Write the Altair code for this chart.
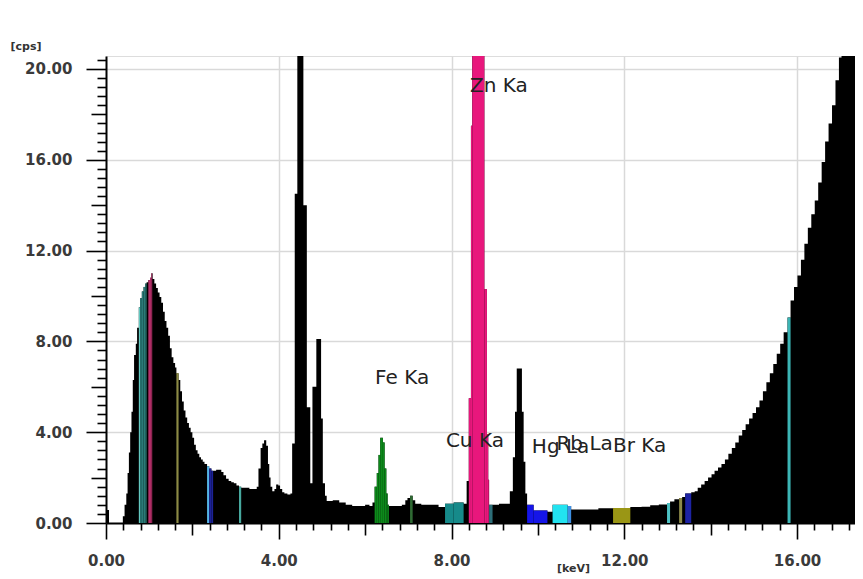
import altair as alt
import pandas as pd

X_MAX = 17.342
Y_MAX = 20.57

# spectrum: step-after breakpoints (keV) and intensity (cps)
spec_e = [0.00, 0.07, 0.39, 0.43, 0.47, 0.50, 0.53, 0.56, 0.59, 0.62, 0.65, 0.69, 0.72, 0.76, 0.79,
          0.83, 0.87, 0.91, 0.94, 0.98, 1.02, 1.05, 1.08, 1.12, 1.16, 1.20, 1.24, 1.28, 1.32, 1.36,
          1.40, 1.44, 1.48, 1.52, 1.56, 1.60, 1.63, 1.68, 1.72, 1.76, 1.80, 1.84, 1.88, 1.92, 1.96,
          2.00, 2.04, 2.08, 2.12, 2.16, 2.20, 2.24, 2.28, 2.34, 2.39, 2.44, 2.48, 2.55, 2.61, 2.67,
          2.72, 2.78, 2.84, 2.90, 2.96, 3.02, 3.08, 3.13, 3.20, 3.26, 3.32, 3.42, 3.49, 3.53, 3.58,
          3.62, 3.66, 3.71, 3.75, 3.78, 3.81, 3.85, 3.90, 3.94, 3.99, 4.03, 4.08, 4.13, 4.20, 4.27,
          4.31, 4.37, 4.43, 4.57, 4.65, 4.73, 4.78, 4.87, 4.98, 5.02, 5.07, 5.11, 5.25, 5.40, 5.55,
          5.70, 5.85, 6.00, 6.10, 6.17, 6.22, 6.27, 6.31, 6.35, 6.41, 6.45, 6.49, 6.52, 6.55, 6.70,
          6.85, 6.93, 6.98, 7.04, 7.10, 7.16, 7.30, 7.50, 7.70, 7.85, 8.05, 8.28, 8.35, 8.40, 8.45,
          8.48, 8.76, 8.82, 8.85, 8.87, 8.95, 9.10, 9.25, 9.35, 9.42, 9.47, 9.51, 9.63, 9.67, 9.71,
          9.75, 9.90, 10.22, 10.34, 10.69, 10.77, 11.00, 11.40, 11.74, 12.14, 12.40, 12.60, 12.80,
          12.99, 13.06, 13.16, 13.27, 13.34, 13.41, 13.55, 13.63, 13.70, 13.78, 13.86, 13.94, 14.02,
          14.09, 14.17, 14.25, 14.33, 14.41, 14.49, 14.57, 14.65, 14.73, 14.81, 14.89, 14.97, 15.05,
          15.13, 15.21, 15.29, 15.37, 15.45, 15.53, 15.61, 15.69, 15.78, 15.85, 15.93, 16.01, 16.09,
          16.17, 16.25, 16.33, 16.41, 16.49, 16.57, 16.65, 16.73, 16.81, 16.89, 16.97, 17.03]
spec_cps = [0.57, 0.0, 0.3, 0.8, 1.3, 2.2, 3.1, 4.0, 4.9, 6.3, 7.4, 7.9, 8.6, 9.5, 9.9,
            10.2, 10.4, 10.55, 10.6, 10.7, 10.8, 11.0, 10.75, 10.55, 10.35, 10.15, 9.95, 9.7, 9.3, 8.9,
            8.6, 8.25, 7.7, 7.3, 7.05, 6.85, 6.6, 6.3, 5.8, 5.35, 4.95, 4.65, 4.4, 4.2, 4.0,
            3.75, 3.45, 3.2, 3.05, 2.9, 2.8, 2.7, 2.6, 2.5, 2.4, 2.3, 2.3, 2.35, 2.35, 2.25,
            2.1, 1.95, 1.85, 1.8, 1.75, 1.65, 1.6, 1.55, 1.55, 1.55, 1.5, 1.5, 1.6, 2.4, 3.3,
            3.5, 3.65, 3.4, 2.6, 2.0, 1.6, 1.4, 1.5, 1.7, 1.65, 1.5, 1.35, 1.3, 1.25, 1.3,
            3.5, 14.5, 21.0, 14.0, 5.1, 1.75, 6.0, 8.1, 4.6, 1.75, 1.2, 0.97, 1.0, 0.9, 0.8,
            0.75, 0.75, 0.8, 0.75, 0.9, 1.6, 2.2, 3.0, 3.75, 3.55, 2.4, 1.3, 0.8, 0.75, 0.75,
            0.8, 1.0, 1.1, 1.2, 1.0, 0.85, 0.8, 0.8, 0.7, 0.85, 0.9, 0.85, 1.85, 5.5, 17.5,
            21.0, 10.3, 3.9, 1.9, 0.8, 0.8, 0.85, 0.85, 1.4, 2.9, 4.9, 6.8, 4.9, 2.7, 1.3,
            0.8, 0.55, 0.5, 0.8, 0.75, 0.6, 0.6, 0.65, 0.66, 0.7, 0.72, 0.78, 0.82,
            0.88, 0.95, 1.05, 1.1, 1.15, 1.3, 1.35, 1.4, 1.55, 1.7, 1.85, 2.0, 2.15,
            2.3, 2.45, 2.6, 2.8, 3.05, 3.3, 3.55, 3.85, 4.1, 4.35, 4.6, 4.85, 5.1,
            5.4, 5.8, 6.2, 6.6, 7.0, 7.45, 7.9, 8.4, 9.05, 9.8, 10.4, 10.9, 11.6,
            12.3, 13.0, 13.6, 14.2, 15.0, 15.9, 16.8, 17.6, 18.4, 19.5, 20.5, 21.0]

# regions of interest (coloured parts of the spectrum)
roi_start = [0.76, 0.79, 0.98, 1.63, 2.34, 2.39, 3.08, 6.22, 7.04, 7.85, 8.40, 8.87, 9.75, 10.34,
             10.69, 11.74, 12.99, 13.27, 13.41, 15.78]
roi_end = [0.79, 0.94, 1.07, 1.68, 2.39, 2.48, 3.13, 6.55, 7.10, 8.28, 8.87, 8.95, 10.22, 10.69,
           10.77, 12.14, 13.06, 13.34, 13.55, 15.85]
roi_color = ["#63c7bf", "#2b7b78", "#b8306b", "#8c8a45", "#55b4e6", "#1c2296", "#47a89e",
             "#0d8a1b", "#2f6a33", "#168a8a", "#e8177c", "#2d6e78", "#1515e8", "#22e3f0",
             "#3d8fe3", "#9a9615", "#4dc2c4", "#8f8c4a", "#1d23a3", "#3cb5b5"]

# peak labels
label_text = ["Zn Ka", "Fe Ka", "Cu Ka", "Hg La", "Rb La", "Br Ka"]
label_e = [8.43, 6.23, 7.87, 9.86, 10.43, 11.74]
label_cps = [19.25, 6.39, 3.61, 3.33, 3.48, 3.40]

x_ticks = [round(0.4 * i, 1) for i in range(44)]
y_ticks = [round(0.4 * i, 1) for i in range(52)]

spec_df = pd.DataFrame({"E": spec_e + [X_MAX], "cps": spec_cps + [spec_cps[-1]]})

rows = []
ends = spec_e[1:] + [X_MAX]
for rs, re_, col in zip(roi_start, roi_end, roi_color):
    for e0, e1, c in zip(spec_e, ends, spec_cps):
        a, b = max(e0, rs), min(e1, re_)
        if b > a:
            rows.append({"x0": a, "x1": b, "y0": 0.0, "cps": c, "color": col})
roi_df = pd.DataFrame(rows)
lab_df = pd.DataFrame({"label": label_text, "E": label_e, "cps": label_cps})

MAJ = "round(datum.value*10) % 40 === 0"
MID = "round(datum.value*10) % 20 === 0"

xscale = alt.Scale(domain=[0, X_MAX], nice=False, zero=False)
yscale = alt.Scale(domain=[0, Y_MAX], nice=False, zero=False)

xaxis = alt.Axis(
    values=x_ticks, tickCount=500,
    labelExpr=f"{MAJ} ? format(datum.value, '.2f') : ''",
    tickSize={"condition": [{"test": MAJ, "value": 16}, {"test": MID, "value": 12}], "value": 7},
    gridOpacity={"condition": {"test": f"{MAJ} && datum.value > 0", "value": 1}, "value": 0},
    gridColor="#d9d9d9", gridWidth=1.5,
    domainColor="black", domainWidth=2, tickColor="black", tickWidth=1.6,
    labelFont="DejaVu Sans", labelFontWeight="bold", labelFontSize=15, labelColor="#3a3a3a",
    labelPadding=14, labelOverlap=False, labelFlush=False, labelBound=False,
    title="[keV]", titleX=467, titleY=39, titleBaseline="top", titleAlign="center",
    titleFont="DejaVu Sans", titleFontSize=11, titleFontWeight="bold", titleColor="#333",
)
yaxis = alt.Axis(
    values=y_ticks, tickCount=500,
    labelExpr=f"{MAJ} ? format(datum.value, '.2f') : ''",
    tickSize={"condition": [{"test": MAJ, "value": 20}, {"test": MID, "value": 15}], "value": 9},
    gridOpacity={"condition": {"test": f"{MAJ} && datum.value > 0", "value": 1}, "value": 0},
    gridColor="#d9d9d9", gridWidth=1.5,
    domainColor="black", domainWidth=2, tickColor="black", tickWidth=1.6,
    labelFont="DejaVu Sans", labelFontWeight="bold", labelFontSize=15, labelColor="#3a3a3a",
    labelPadding=14, labelOverlap=False, labelFlush=False, labelBound=False,
    title="[cps]", titleAngle=0, titleX=-96, titleY=-10, titleAlign="left", titleBaseline="middle",
    titleFont="DejaVu Sans", titleFontSize=11, titleFontWeight="bold", titleColor="#333",
)

area = alt.Chart(spec_df).mark_area(interpolate="step-after", color="black", clip=True).encode(
    x=alt.X("E:Q", scale=xscale, axis=xaxis),
    y=alt.Y("cps:Q", scale=yscale, axis=yaxis),
)

rois = alt.Chart(roi_df).mark_rect(clip=True).encode(
    x=alt.X("x0:Q", scale=xscale),
    x2="x1:Q",
    y=alt.Y("y0:Q", scale=yscale),
    y2="cps:Q",
    color=alt.Color("color:N", scale=None),
)

texts = alt.Chart(lab_df).mark_text(
    align="left", baseline="middle", font="DejaVu Sans", fontSize=20, color="#222"
).encode(
    x=alt.X("E:Q", scale=xscale),
    y=alt.Y("cps:Q", scale=yscale),
    text="label:N",
)

chart = alt.layer(area, rois, texts).properties(
    width=749, height=467,
    autosize=alt.AutoSizeParams(type="none"),
    padding={"left": 98, "top": 48, "right": 0, "bottom": 56},
).configure_view(stroke="#666", strokeWidth=1.5).configure(background="white")

chart.save("out.html", embed_options={"renderer": "svg", "actions": False})
